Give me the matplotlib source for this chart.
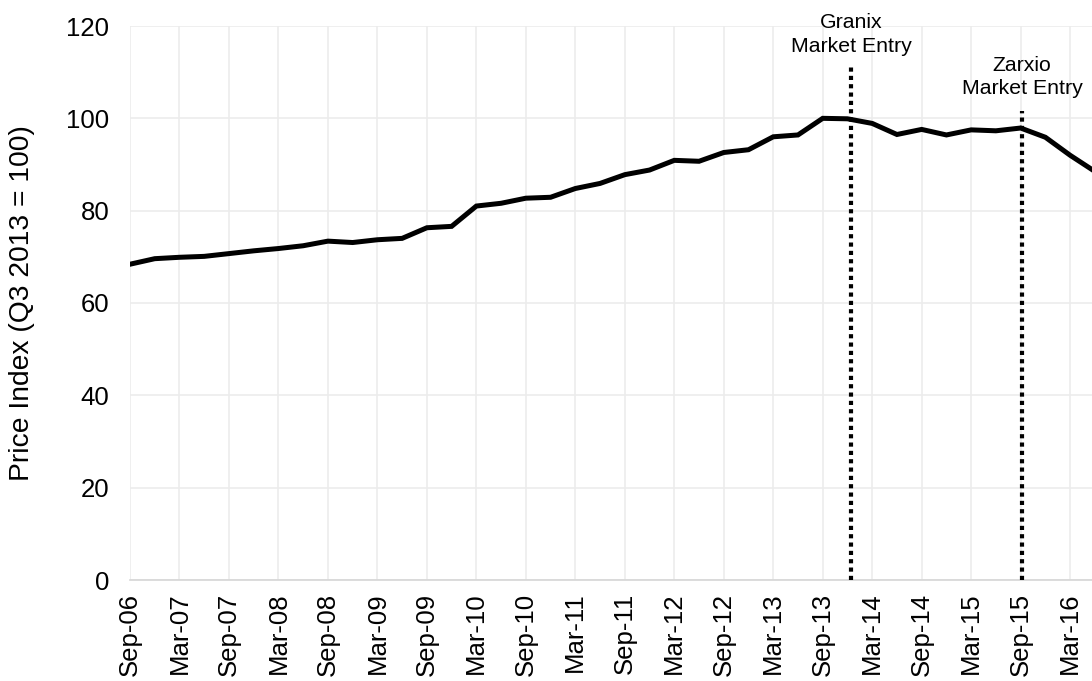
import matplotlib
matplotlib.use('Agg')
import matplotlib.pyplot as plt

# quarterly price index, Sep-06 .. Jun-16
price_index = [68.4, 69.6, 69.9, 70.1, 70.7, 71.3, 71.8, 72.4, 73.4, 73.1,
               73.7, 74.0, 76.3, 76.6, 81.0, 81.6, 82.7, 82.9, 84.8, 85.9,
               87.8, 88.8, 90.9, 90.7, 92.6, 93.2, 96.0, 96.4, 100.0, 99.9,
               98.9, 96.5, 97.6, 96.4, 97.5, 97.3, 97.9, 95.9, 92.0, 88.5]
tick_labels = ['Sep-06', 'Mar-07', 'Sep-07', 'Mar-08', 'Sep-08', 'Mar-09',
               'Sep-09', 'Mar-10', 'Sep-10', 'Mar-11', 'Sep-11', 'Mar-12',
               'Sep-12', 'Mar-13', 'Sep-13', 'Mar-14', 'Sep-14', 'Mar-15',
               'Sep-15', 'Mar-16']
# market entry events (quarter position, top of marker line, label)
event_names = ['Granix\nMarket Entry', 'Zarxio\nMarket Entry']
event_pos = [29.15, 36.05]
event_top = [111.6, 101.6]
event_label_y = [118.2, 109.0]

plt.rcParams['font.family'] = ['Liberation Sans', 'DejaVu Sans']

fig = plt.figure(figsize=(10.92, 6.81), dpi=100)
ax = fig.add_axes([130/1092, 101/681, 962/1092, 554/681])

quarters = list(range(len(price_index)))
ax.plot(quarters, price_index, color='black', lw=3.6, solid_joinstyle='miter', zorder=3)

for x, top, ly, name in zip(event_pos, event_top, event_label_y, event_names):
    ax.plot([x, x], [0, top], color='black', lw=3.0, linestyle=(0, (1, 1)),
            dash_capstyle='butt', zorder=4)
    ax.text(x, ly, name, ha='center', va='center', fontsize=15.3, linespacing=1.3)

ax.set_xlim(0, 962/24.74)
ax.set_ylim(0, 120)
ax.set_yticks(range(0, 121, 20))
ax.set_xticks(range(0, 2*len(tick_labels), 2))
ax.set_xticklabels(tick_labels, rotation=90)
ax.tick_params(axis='both', length=0, labelsize=18.5)
ax.tick_params(axis='x', pad=9)
ax.tick_params(axis='y', pad=15)

ax.grid(True, color='#ececec', lw=1.2)
ax.set_axisbelow(True)
for s in ['left', 'right', 'top']:
    ax.spines[s].set_visible(False)
ax.spines['bottom'].set_color('#d6d6d6')
ax.spines['bottom'].set_linewidth(1.2)

ax.set_ylabel('Price Index (Q3 2013 = 100)', fontsize=20.3)
ax.yaxis.label.set_va('center')
ax.yaxis.set_label_coords(-108/962, 0.5)

fig.savefig('out.png', dpi=100)
